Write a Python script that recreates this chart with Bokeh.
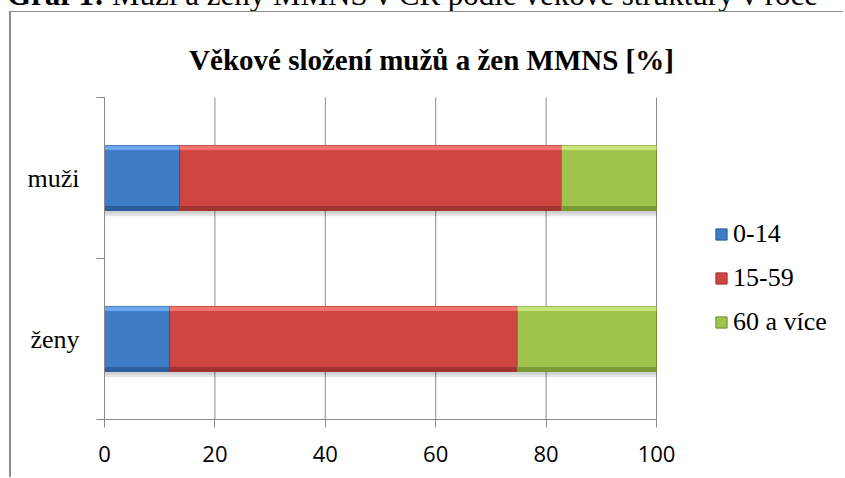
from bokeh.plotting import figure
from bokeh.models import FixedTicker, Legend, LegendItem, Div, Label
from bokeh.layouts import column
from bokeh.embed import file_html
from bokeh.resources import INLINE

# ---- data ----
categories = ["ženy", "muži"]          # bottom to top
groups = ["0-14", "15-59", "60 a více"]
v_0_14 = [11.8, 13.6]
v_15_59 = [63.0, 69.2]
v_60 = [25.2, 17.2]
x_ticks = [0, 20, 40, 60, 80, 100]
title_text = "Věkové složení mužů a žen MMNS [%]"
header_bold = "Graf 1:"
header_rest = "Muži a ženy MMNS v ČR podle věkové struktury v roce"

series = [v_0_14, v_15_59, v_60]
mid = ["#3E7CC8", "#CF4542", "#9FC34D"]
light = ["#6DA8EE", "#F2746F", "#C8E47C"]
dark = ["#2D5E9E", "#A23431", "#7A9B36"]
edge = ["#2B5A95", "#9B2F2D", "#6E8E2E"]
grey = "#8A8A8A"

# page layout (pixels): chart box starts at (11, 12); plot area spans x 104..656, y 97..419
OX, OY = 11, 12
W, H = 845 - OX, 478 - OY
PX0, PX1, PY0, PY1 = 104, 656, 97, 419
ncat = len(categories)
xs = (PX1 - PX0) / x_ticks[-1]          # px per unit
ys = (PY1 - PY0) / ncat                 # px per category
x_end = (845 - PX0) / xs                # frame reaches under legend
y_end = (PY1 - OY) / ys                 # frame reaches up to the title

header = Div(text=(f'<div style="position:relative; left:7px; top:-22px; '
                   'white-space:nowrap; font-family:\'Liberation Serif\'; font-size:31px; '
                   f'line-height:34px; color:black;"><b>{header_bold}</b> {header_rest}</div>'),
             width=845, height=OY, margin=(0, 0, 0, 0),
             styles={"overflow": "visible"})

p = figure(width=W, height=H, x_range=(0, x_end), y_range=(0, y_end),
           output_backend="svg", toolbar_location=None,
           min_border_left=PX0 - OX, min_border_right=0,
           min_border_top=0, min_border_bottom=H - (PY1 - OY),
           margin=(0, 0, 0, OX),
           styles={"box-shadow": "-2px -1px 0 0 #8C8C8C"})
p.outline_line_color = None
p.background_fill_color = "white"
p.border_fill_color = "white"

# vertical gridlines at the x ticks, only over the plot area
p.segment(x0=x_ticks, x1=x_ticks, y0=0, y1=ncat, line_color=grey, line_width=1)

pos = [i + 0.5 for i in range(ncat)]
bh = 0.404
strip = 0.028

totals = [sum(s[i] for s in series) for i in range(ncat)]
p.hbar(y=[y - 0.035 for y in pos], left=0, right=totals, height=bh,
       fill_color="black", fill_alpha=0.10, line_color=None)
p.hbar(y=[y - 0.02 for y in pos], left=0, right=totals, height=bh,
       fill_color="black", fill_alpha=0.08, line_color=None)

main = []
lefts = [0.0] * ncat
for k, s in enumerate(series):
    rights = [lefts[i] + s[i] for i in range(ncat)]
    r = p.hbar(y=pos, left=lefts, right=rights, height=bh,
               fill_color=mid[k], line_color=edge[k], line_width=1)
    p.hbar(y=[y + bh / 2 - strip / 2 for y in pos], left=lefts, right=rights,
           height=strip, fill_color=light[k], line_color=None)
    p.hbar(y=[y - bh / 2 + strip / 2 for y in pos], left=lefts, right=rights,
           height=strip, fill_color=dark[k], line_color=None)
    main.append(r)
    lefts = rights

p.xaxis.ticker = FixedTicker(ticks=x_ticks)
p.xaxis.bounds = (x_ticks[0], x_ticks[-1])
p.xaxis.axis_line_color = grey
p.xaxis.major_tick_line_color = grey
p.xaxis.major_tick_out = 8
p.xaxis.major_tick_in = 0
p.xaxis.minor_tick_line_color = None
p.xaxis.major_label_text_font = "Open Sans"
p.xaxis.major_label_text_font_size = "22px"
p.xaxis.major_label_text_color = "black"
p.xaxis.major_label_standoff = 18

p.yaxis.ticker = FixedTicker(ticks=pos, minor_ticks=list(range(ncat + 1)))
p.yaxis.bounds = (0, ncat)
p.yaxis.major_label_overrides = {pos[i]: categories[i] for i in range(ncat)}
p.yaxis.axis_line_color = grey
p.yaxis.major_tick_line_color = None
p.yaxis.major_tick_out = 0
p.yaxis.major_tick_in = 0
p.yaxis.minor_tick_line_color = grey
p.yaxis.minor_tick_out = 8
p.yaxis.minor_tick_in = 0
p.yaxis.major_label_text_font = "Liberation Serif"
p.yaxis.major_label_text_font_size = "26px"
p.yaxis.major_label_text_color = "black"
p.yaxis.major_label_standoff = 17

p.xgrid.grid_line_color = None
p.ygrid.grid_line_color = None

# chart title (inside the frame area above the plot)
p.add_layout(Label(x=(431 - PX0) / xs, y=(PY1 - 59) / ys, text=title_text,
                   text_font="Liberation Serif", text_font_style="bold",
                   text_font_size="29px", text_color="black",
                   text_align="center", text_baseline="alphabetic"))

legend = Legend(items=[LegendItem(label=groups[k], renderers=[main[k]]) for k in range(3)],
                location=(714 - PX0, PY1 - 337), orientation="vertical",
                label_text_font="Liberation Serif", label_text_font_size="26px",
                label_text_color="black",
                glyph_width=14, glyph_height=14, label_standoff=5, spacing=14,
                padding=0, margin=0, background_fill_alpha=0, border_line_color=None)
p.add_layout(legend)

layout = column(header, p, spacing=0)
open("out.html", "w").write(file_html(layout, INLINE))
